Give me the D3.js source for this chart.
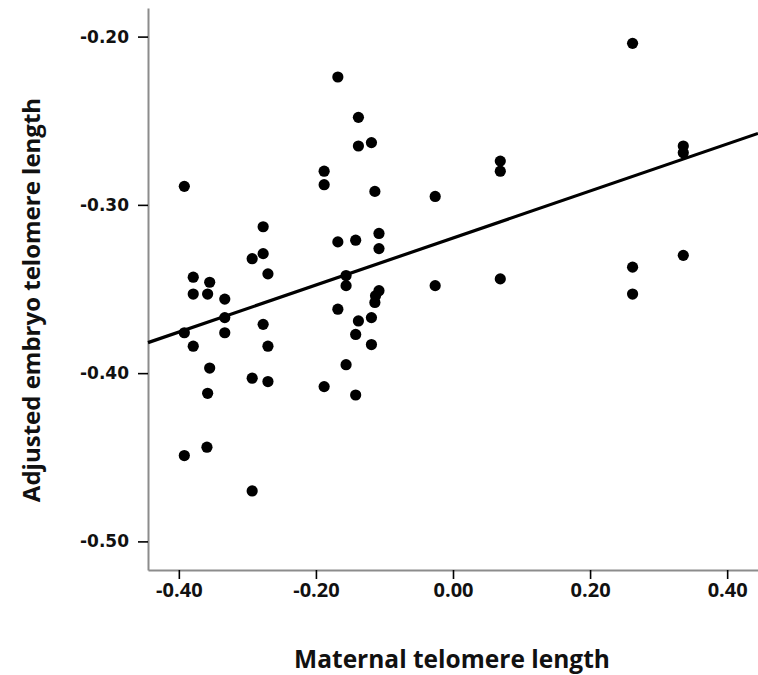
<!DOCTYPE html>
<html>
<head>
<meta charset="utf-8">
<script src="https://cdn.jsdelivr.net/npm/d3@7"></script>
<style>
  html, body { margin: 0; padding: 0; background: #fff; }
  svg { display: block; }
</style>
</head>
<body>
<svg id="chart" width="758" height="675"></svg>
<script>
// Maternal telomere length (x) and adjusted embryo telomere length (y), one entry per embryo
const maternalTL = [
  -0.392, -0.392, -0.392,
  -0.379, -0.379, -0.379,
  -0.355, -0.358, -0.355, -0.358, -0.359,
  -0.333, -0.333, -0.333,
  -0.293, -0.293, -0.293,
  -0.277, -0.277, -0.277,
  -0.270, -0.270, -0.270,
  -0.188, -0.188, -0.188,
  -0.168, -0.168, -0.168,
  -0.156, -0.156, -0.156,
  -0.138, -0.138, -0.142, -0.138, -0.142, -0.142,
  -0.119, -0.114, -0.108, -0.108, -0.108, -0.113, -0.114, -0.119, -0.119,
  -0.026, -0.026,
  0.069, 0.069, 0.069,
  0.262, 0.262, 0.262,
  0.336, 0.336, 0.336
];
const embryoTL = [
  -0.289, -0.376, -0.449,
  -0.343, -0.353, -0.384,
  -0.346, -0.353, -0.397, -0.412, -0.444,
  -0.356, -0.367, -0.376,
  -0.332, -0.403, -0.470,
  -0.313, -0.329, -0.371,
  -0.341, -0.384, -0.405,
  -0.280, -0.288, -0.408,
  -0.224, -0.322, -0.362,
  -0.342, -0.348, -0.395,
  -0.248, -0.265, -0.321, -0.369, -0.377, -0.413,
  -0.263, -0.292, -0.317, -0.326, -0.351, -0.354, -0.358, -0.367, -0.383,
  -0.295, -0.348,
  -0.274, -0.280, -0.344,
  -0.204, -0.337, -0.353,
  -0.265, -0.269, -0.330
];

// Least-squares fit line: embryo = intercept + slope * maternal
const fitIntercept = -0.3197;
const fitSlope = 0.1397;

const xDomain = [-0.445, 0.445];
const yDomain = [-0.517, -0.183];
const xTickValues = [-0.40, -0.20, 0.00, 0.20, 0.40];
const yTickValues = [-0.20, -0.30, -0.40, -0.50];

const xLabel = "Maternal telomere length";
const yLabel = "Adjusted embryo telomere length";

const svg = d3.select("#chart");
const plotLeft = 148, plotRight = 758, plotTop = 8, plotBottom = 570;

const x = d3.scaleLinear().domain(xDomain).range([plotLeft, plotRight]);
const y = d3.scaleLinear().domain(yDomain).range([plotBottom, plotTop]);

// Plain hyphen-minus for negative tick labels
const fmt = d3.formatLocale({ decimal: ".", thousands: ",", grouping: [3], currency: ["", ""], minus: "-" }).format(".2f");

// X axis
const gx = svg.append("g")
  .attr("transform", `translate(0,${plotBottom})`)
  .call(d3.axisBottom(x).tickValues(xTickValues).tickFormat(fmt).tickSize(9).tickSizeOuter(0).tickPadding(4));
gx.select(".domain").attr("stroke", "#8c8c8c").attr("stroke-width", 2);
gx.selectAll(".tick line").attr("stroke", "#000").attr("stroke-width", 1.6);
gx.selectAll(".tick text")
  .attr("fill", "#111")
  .style("font-family", "'Open Sans', sans-serif")
  .style("font-weight", "700")
  .style("font-size", "20px");

// Y axis
const gy = svg.append("g")
  .attr("transform", `translate(${plotLeft},0)`)
  .call(d3.axisLeft(y).tickValues(yTickValues).tickFormat(fmt).tickSize(10).tickSizeOuter(0).tickPadding(9));
gy.select(".domain").attr("stroke", "#8c8c8c").attr("stroke-width", 2);
gy.selectAll(".tick line").attr("stroke", "#000").attr("stroke-width", 1.6);
gy.selectAll(".tick text")
  .attr("fill", "#111")
  .style("font-family", "'DejaVu Sans', sans-serif")
  .style("font-weight", "700")
  .style("font-size", "17px");

// Fit line
const fitPts = xDomain.map(v => [v, fitIntercept + fitSlope * v]);
svg.append("path")
  .attr("d", d3.line().x(d => x(d[0])).y(d => y(d[1]))(fitPts))
  .attr("fill", "none")
  .attr("stroke", "#000")
  .attr("stroke-width", 3.2);

// Points
svg.append("g")
  .selectAll("circle")
  .data(d3.range(maternalTL.length))
  .join("circle")
  .attr("cx", i => x(maternalTL[i]))
  .attr("cy", i => y(embryoTL[i]))
  .attr("r", 5.6)
  .attr("fill", "#000");

// Axis titles
svg.append("text")
  .attr("x", 452)
  .attr("y", 668)
  .attr("text-anchor", "middle")
  .attr("fill", "#111")
  .style("font-family", "'Open Sans', sans-serif")
  .style("font-weight", "700")
  .style("font-size", "24.5px")
  .text(xLabel);

svg.append("text")
  .attr("transform", "translate(40,300) rotate(-90)")
  .attr("text-anchor", "middle")
  .attr("fill", "#111")
  .style("font-family", "'Open Sans', sans-serif")
  .style("font-weight", "700")
  .style("font-size", "24px")
  .text(yLabel);
</script>
</body>
</html>
